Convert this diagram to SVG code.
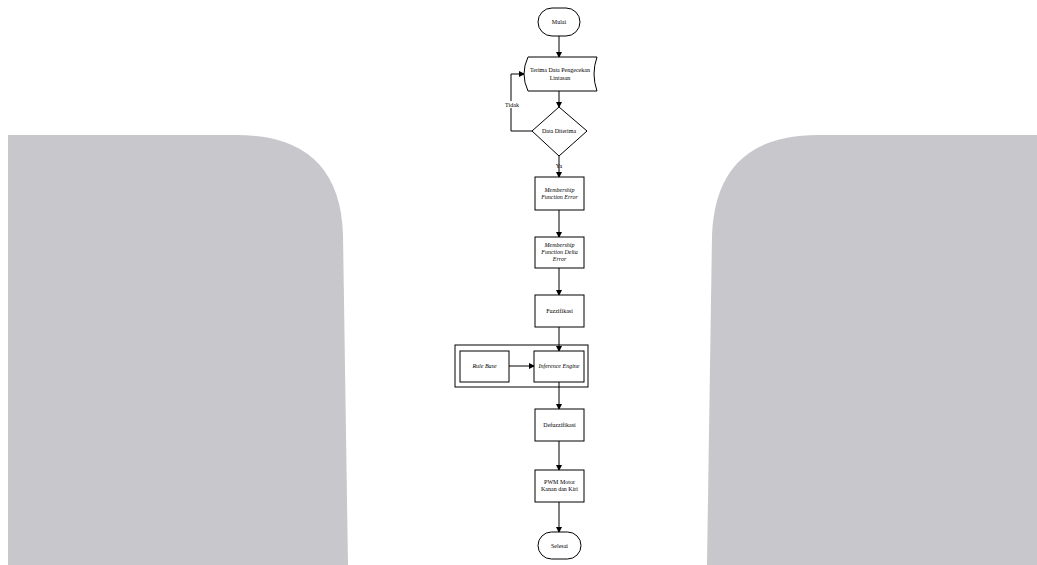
<svg xmlns="http://www.w3.org/2000/svg" width="1037" height="565" viewBox="0 0 1037 565">
<defs>
<marker id="ah" markerWidth="6" markerHeight="6" refX="5" refY="3" orient="auto" markerUnits="userSpaceOnUse">
<path d="M0,0 L6,3 L0,6 Z" fill="#000"/>
</marker>
<style>
.bg{fill:#c8c7cb}
.n{fill:#fff;stroke:#000;stroke-width:1}
.t{font-family:"Liberation Serif","Times New Roman",serif;font-size:6px;fill:#000;text-anchor:middle}
.i{font-style:italic}
.c{fill:none;stroke:#000;stroke-width:1;marker-end:url(#ah)}
.lb{fill:#fff}
</style>
</defs>
<rect width="1037" height="565" fill="#fff"/>
<g id="background">
<path class="bg" d="M8,135 L236,135 Q340,135 343,235 L348,565 L8,565 Z"/>
<path class="bg" d="M1037,135 L818,135 Q716,135 712,235 L707,565 L1037,565 Z"/>
</g>
<g id="connectors">
<line class="c" x1="559" y1="36" x2="559" y2="57"/>
<line class="c" x1="559" y1="91" x2="559" y2="107"/>
<polyline class="c" points="532,131 511,131 511,74 524,74"/>
<line class="c" x1="559" y1="156" x2="559" y2="177"/>
<line class="c" x1="559" y1="210" x2="559" y2="237"/>
<line class="c" x1="559" y1="268" x2="559" y2="295"/>
<line class="c" x1="559" y1="327" x2="559" y2="351"/>
<line class="c" x1="509" y1="366" x2="534" y2="366"/>
<line class="c" x1="559" y1="382" x2="559" y2="409"/>
<line class="c" x1="559" y1="441" x2="559" y2="470"/>
<line class="c" x1="559" y1="502" x2="559" y2="532"/>
<rect class="lb" x="503" y="101" width="18" height="7"/>
<text class="t" x="512" y="107">Tidak</text>
<text class="t" x="559" y="168">Ya</text>
</g>
<g id="mulai">
<rect class="n" x="538" y="8" width="42" height="28" rx="14"/>
<text class="t" x="559" y="24">Mulai</text>
</g>
<g id="terima">
<path class="n" d="M528,57 L597,57 Q591,74 597,91 L528,91 Q520,74 528,57 Z"/>
<text class="t" x="560" y="72">Terima Data Pengecekan</text>
<text class="t" x="560" y="80">Lintasan</text>
</g>
<g id="data-diterima">
<path class="n" d="M559,107 L587,131 L559,156 L532,131 Z"/>
<text class="t" x="559" y="133">Data Diterima</text>
</g>
<g id="mf-error">
<rect class="n" x="535" y="177" width="49" height="33"/>
<text class="t i" x="559.5" y="192">Membership</text>
<text class="t i" x="559.5" y="199">Function Error</text>
</g>
<g id="mf-delta-error">
<rect class="n" x="535" y="237" width="49" height="31"/>
<text class="t i" x="559.5" y="247">Membership</text>
<text class="t i" x="559.5" y="254">Function Delta</text>
<text class="t i" x="559.5" y="261">Error</text>
</g>
<g id="fuzzifikasi">
<rect class="n" x="535" y="295" width="49" height="32"/>
<text class="t" x="559.5" y="313">Fuzzifikasi</text>
</g>
<g id="inference-group">
<rect x="455" y="345" width="133" height="42" fill="none" stroke="#000" stroke-width="1"/>
</g>
<g id="rule-base">
<rect class="n" x="460" y="351" width="49" height="31"/>
<text class="t i" x="484.5" y="368">Rule Base</text>
</g>
<g id="inference-engine">
<rect class="n" x="534" y="351" width="50" height="31"/>
<text class="t i" x="559" y="368">Inference Engine</text>
</g>
<g id="defuzzifikasi">
<rect class="n" x="535" y="409" width="49" height="32"/>
<text class="t" x="559.5" y="427">Defuzzifikasi</text>
</g>
<g id="pwm">
<rect class="n" x="535" y="470" width="49" height="32"/>
<text class="t" x="559.5" y="484">PWM Motor</text>
<text class="t" x="559.5" y="491">Kanan dan Kiri</text>
</g>
<g id="selesai">
<rect class="n" x="538" y="532" width="43" height="27" rx="13.5"/>
<text class="t" x="559.5" y="547.5">Selesai</text>
</g>
</svg>
